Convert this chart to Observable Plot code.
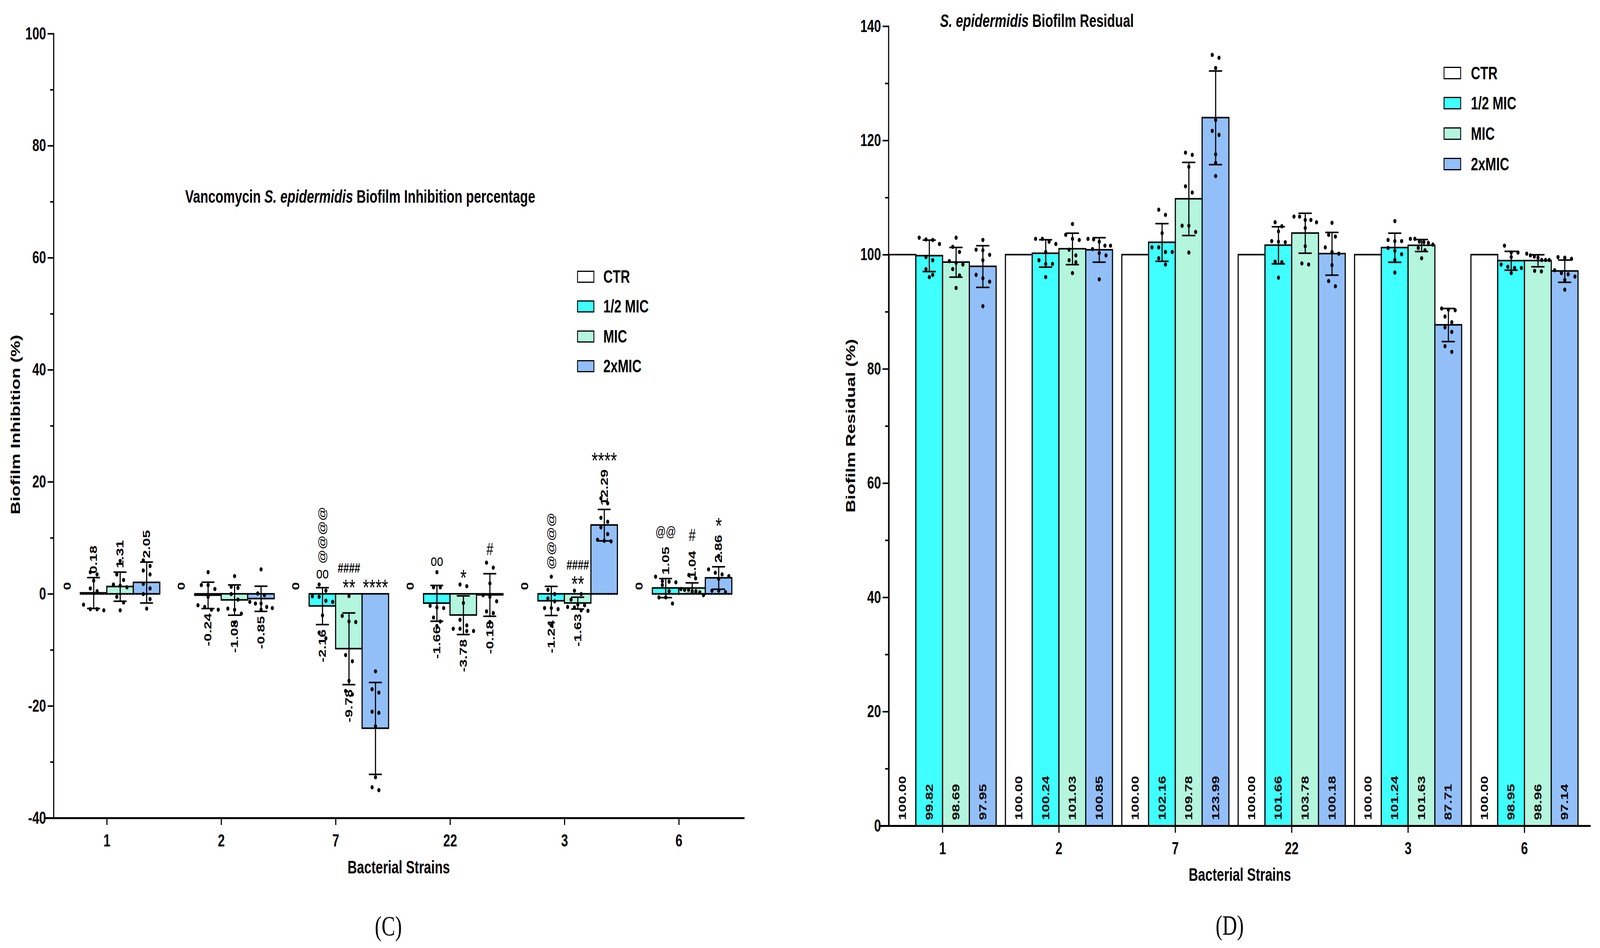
<!DOCTYPE html>
<html><head><meta charset="utf-8">
<script src="https://cdn.jsdelivr.net/npm/d3@7"></script>
<script src="https://cdn.jsdelivr.net/npm/@observablehq/plot@0.6"></script>
<style>
html,body{margin:0;padding:0;background:#fff;overflow:hidden;}
#wrap{position:absolute;left:0;top:0;width:5678px;height:2427px;overflow:hidden;transform-origin:0 0;font-family:"Liberation Sans",Arial,sans-serif;font-weight:bold;color:#000;background:#fff;}
.abs{position:absolute;white-space:nowrap;line-height:1;}
.c{transform:translate(-50%,-50%);}
.rot{transform:translate(-50%,-50%) rotate(-90deg);}
.sw{position:absolute;border:3px solid #000;box-sizing:border-box;}
.serif{font-family:"Liberation Serif","Times New Roman",serif;font-weight:normal;}
</style></head><body><div id="wrap"></div>
<script>
// ---------- shared categories ----------
const strains = ["1", "2", "7", "22", "3", "6"];
const treatments = ["CTR", "1/2 MIC", "MIC", "2xMIC"];
const fills = ["#ffffff", "#3fffff", "#b4f5de", "#93bff8"];

// ---------- panel C : biofilm inhibition (%) ----------
const inhibMean = [[0, 0.18, 1.31, 2.05], [0, -0.24, -1.08, -0.85], [0, -2.16, -9.78, -23.99],
                   [0, -1.66, -3.78, -0.18], [0, -1.24, -1.63, 12.29], [0, 1.05, 1.04, 2.86]];
const inhibSD = [[0, 2.75, 2.6, 3.65], [0, 2.35, 2.7, 2.25], [0, 3.3, 6.4, 8.2],
                 [0, 3.2, 3.45, 3.8], [0, 2.6, 1.05, 2.8], [0, 1.7, 0.95, 2.0]];
const inhibLabel = [["0", "0.18", "1.31", "2.05"], ["0", "-0.24", "-1.08", "-0.85"], ["0", "-2.16", "-9.78", ""],
                    ["0", "-1.66", "-3.78", "-0.18"], ["0", "-1.24", "-1.63", "12.29"], ["0", "1.05", "1.04", "2.86"]];
// individual replicates per strain: [1/2 MIC, MIC, 2xMIC]
const inhibPts = [
  [[3.5, 3.9, 2.4, 1.0, 0.5, -1.9, -2.7, -2.7, -2.9], [5.9, 3.5, 2.5, 1.7, 1.5, 1.2, -0.5, -1.5, -2.9], [6.0, 5.0, 4.2, 3.5, 1.8, 1.0, 0, -0.9, -2.6]],
  [[3.9, 0.9, 1.6, 1.6, -0.5, -2.0, -2.3, -2.8, -2.8], [3.2, 1.3, 1.1, 0, -1.0, -2.6, -2.8, -3.5, -5.1], [4.4, 0.1, -0.2, -1.7, -1.7, -1.4, -2.3, -2.5, -2.8]],
  [[1.7, 0.6, -0.4, -0.5, -1.2, -1.4, -3.8, -6.9, -7.9], [-0.35, -3.9, -4.9, -5.0, -10.9, -12.0, -15.5, -17.3, -17.9], [-13.8, -17.0, -17.6, -21.0, -21.2, -23.6, -32.7, -34.5, -35.0]],
  [[3.9, 1.2, 1.2, -2.1, -2.4, -2.5, -4.2, -4.9, -5.7], [1.7, 1.4, -1.6, -4.6, -5.6, -6.2, -6.2, -6.6, -6.6], [5.6, 4.7, 1.9, -0.2, -0.5, -1.3, -3.1, -3.4, -5.0]],
  [[3.1, 0.75, 0, -0.8, -1.3, -2.5, -2.5, -2.7, -5.6], [0.6, 0, -1.0, -1.85, -2.0, -2.3, -2.4, -2.9, -3.0], [17.1, 16.2, 13.6, 12.9, 11.9, 10.7, 9.7, 9.5, 9.4]],
  [[3.1, 2.3, 2.2, 2.1, 1.6, 0.5, -0.6, -0.6, -1.7], [3.4, 2.8, 0.9, 0.75, 0.75, 0.5, 0.5, 0.3, -0.2], [6.8, 4.4, 3.8, 3.5, 3.2, 2.7, 0.6, 0.6, 0.35]]
];
// significance marks: [strain, treatment, text] (bottom to top)
const sigMarks = [
  ["7", "1/2 MIC", "oo"], ["7", "1/2 MIC", "@@@@"], ["7", "MIC", "**"], ["7", "MIC", "####"], ["7", "2xMIC", "****"],
  ["22", "1/2 MIC", "oo"], ["22", "MIC", "*"], ["22", "2xMIC", "#"],
  ["3", "1/2 MIC", "@@@@"], ["3", "MIC", "**"], ["3", "MIC", "####"], ["3", "2xMIC", "****"],
  ["6", "1/2 MIC", "@@"], ["6", "MIC", "#"], ["6", "2xMIC", "*"]
];

// ---------- panel D : biofilm residual (%) ----------
const residMean = [[100, 99.82, 98.69, 97.95], [100, 100.24, 101.03, 100.85], [100, 102.16, 109.78, 123.99],
                   [100, 101.66, 103.78, 100.18], [100, 101.24, 101.63, 87.71], [100, 98.95, 98.96, 97.14]];
const residSD = [[0, 2.75, 2.6, 3.65], [0, 2.4, 2.75, 2.15], [0, 3.3, 6.4, 8.2],
                 [0, 3.25, 3.5, 3.75], [0, 2.55, 1.05, 2.9], [0, 1.65, 1.05, 1.95]];
const residLabel = [["100.00", "99.82", "98.69", "97.95"], ["100.00", "100.24", "101.03", "100.85"], ["100.00", "102.16", "109.78", "123.99"],
                    ["100.00", "101.66", "103.78", "100.18"], ["100.00", "101.24", "101.63", "87.71"], ["100.00", "98.95", "98.96", "97.14"]];
const residPts = [
  [[101.9, 103.0, 102.7, 102.6, 99.6, 99.05, 97.5, 96.5, 96.1], [98.6, 101.4, 103.0, 100.5, 98.9, 97.5, 98.3, 96.4, 94.2], [102.6, 100.9, 100.8, 100.0, 99.05, 96.5, 95.9, 95.3, 91.0]],
  [[101.9, 102.8, 102.8, 102.3, 99.05, 100.5, 98.4, 98.4, 96.1], [105.4, 102.6, 103.5, 102.8, 100.9, 99.9, 99.05, 98.7, 96.8], [101.6, 102.8, 102.7, 102.3, 100.3, 101.6, 99.9, 101.0, 95.7]],
  [[107.9, 107.0, 103.8, 101.3, 100.5, 100.5, 101.3, 99.4, 98.3], [117.9, 117.5, 115.4, 110.9, 112.0, 105.1, 105.1, 104.0, 100.4], [135.0, 134.5, 132.7, 123.6, 121.7, 121.0, 117.6, 116.1, 113.8]],
  [[105.0, 105.7, 104.1, 102.3, 102.2, 102.4, 98.8, 98.7, 96.0], [106.1, 106.7, 106.7, 106.1, 105.7, 104.7, 101.5, 98.5, 98.3], [105.6, 103.5, 103.2, 101.3, 100.5, 100.2, 98.2, 95.4, 94.5]],
  [[105.9, 102.4, 102.6, 102.4, 100.7, 100.1, 101.2, 99.1, 96.9], [102.1, 102.8, 102.8, 102.3, 101.8, 101.2, 100.8, 99.4, 102.2], [90.6, 90.4, 90.3, 89.2, 88.2, 87.3, 86.5, 84.0, 83.0]],
  [[101.6, 99.6, 100.4, 100.4, 98.3, 97.9, 97.7, 97.7, 96.8], [99.1, 99.1, 99.1, 99.5, 100.2, 99.9, 99.7, 97.2, 97.1], [99.6, 99.5, 99.3, 97.3, 96.8, 96.6, 96.2, 95.6, 93.9]]
];

// ---------- helpers ----------
const FONT = '"Liberation Sans", Arial, sans-serif';
const cv = document.createElement("canvas").getContext("2d");
function measure(txt, font) { cv.font = font; return cv.measureText(txt).width; }
const hyphen = d => String(d);

function buildBars(mean, sd, label) {
  const out = [];
  strains.forEach((s, i) => treatments.forEach((t, j) =>
    out.push({strain: s, treatment: t, mean: mean[i][j], sd: sd[i][j], label: label[i][j],
              lo: mean[i][j] - sd[i][j], hi: mean[i][j] + sd[i][j]})));
  return out;
}
// horizontal spreading of overlapping replicates (scatter-dot style)
function spread(vals, pxPerUnit) {
  const sorted = vals.slice().sort((a, b) => b - a);
  const out = []; let cl = [];
  const flush = () => {
    const n = cl.length, step = n > 1 ? Math.min(24, 80 / (n - 1)) : 0;
    cl.forEach((v, k) => out.push({v, off: Math.round((k - (n - 1) / 2) * step)}));
    cl = [];
  };
  for (const v of sorted) { if (cl.length && (cl[0] - v) * pxPerUnit > 18) flush(); cl.push(v); }
  flush();
  return out;
}
function dotMarks(ptsArr, pxPerUnit) {
  const recs = [];
  strains.forEach((s, i) => ptsArr[i].forEach((vals, k) => {
    spread(vals, pxPerUnit).forEach(p => recs.push({strain: s, treatment: treatments[k + 1], value: p.v, off: p.off}));
  }));
  return d3.groups(recs, d => d.off).map(([off, g]) =>
    Plot.dot(g, {fx: "strain", x: "treatment", y: "value", dx: off, r: 5.5, fill: "black"}));
}
function errorMarks(bars) {
  const e = bars.filter(d => d.sd > 0);
  return [
    Plot.ruleX(e, {fx: "strain", x: "treatment", y1: "lo", y2: "hi", stroke: "black", strokeWidth: 4}),
    Plot.tickY(e, {fx: "strain", x: "treatment", y: "lo", insetLeft: 24, insetRight: 24, stroke: "black", strokeWidth: 4}),
    Plot.tickY(e, {fx: "strain", x: "treatment", y: "hi", insetLeft: 24, insetRight: 24, stroke: "black", strokeWidth: 4})
  ];
}
function sigStyle(txt) {
  if (/^@+$/.test(txt) && txt.length > 2) return {rotate: true, size: 36, weight: "normal"};
  if (/^\*+$/.test(txt)) return {size: 58, weight: "normal", h: 21, shift: 13};
  if (txt === "####") return {size: 36, weight: "bold", h: 26, shift: 0};
  if (/^#+$/.test(txt)) return {size: 44, weight: "normal", h: 31, shift: 0};
  if (/^@+$/.test(txt)) return {size: 36, weight: "normal", h: 28, shift: 0};
  return {size: 40, weight: "normal", h: 21, shift: 0};
}
function buildSig() {
  const marks = [];
  const byBar = d3.groups(sigMarks, d => d[0] + "|" + d[1]);
  for (const [key, items] of byBar) {
    const [s, t] = key.split("|");
    const i = strains.indexOf(s), j = treatments.indexOf(t);
    const m = inhibMean[i][j], sd = inhibSD[i][j];
    let base, off;
    if (m >= 0) { base = m + sd; off = 10 + measure(inhibLabel[i][j], `bold 37px ${FONT}`) + 24; }
    else { base = Math.max(0, m + sd, d3.max(inhibPts[i][j - 1])); off = 18; }
    for (const it of items) {
      const txt = it[2], st = sigStyle(txt);
      const rec = [{strain: s, treatment: t, y: base, text: txt}];
      if (st.rotate) {
        marks.push(Plot.text(rec, {fx: "strain", x: "treatment", y: "y", text: "text", rotate: -90, textAnchor: "start",
          dy: -off, fontSize: st.size, fontWeight: st.weight}));
        off += measure(txt, `${st.weight} ${st.size}px ${FONT}`) + 14;
      } else {
        marks.push(Plot.text(rec, {fx: "strain", x: "treatment", y: "y", text: "text", lineAnchor: "middle",
          dy: -(off + st.h / 2) + st.shift, fontSize: st.size, fontWeight: st.weight}));
        off += st.h + 14;
      }
    }
  }
  return marks;
}
const baseStyle = {fontFamily: FONT, fontSize: "44px", fontWeight: "bold", overflow: "visible", background: "none", color: "black", maxWidth: "none"};

// ---------- panel C plot ----------
const L = {w: 2850, h: 2427, ml: 190, mr: 210, mt: 86, mb: 333};
const leftBars = buildBars(inhibMean, inhibSD, inhibLabel);
const pxL = (L.h - L.mt - L.mb) / 140;
const leftPlot = Plot.plot({
  width: L.w, height: L.h, marginLeft: L.ml, marginRight: L.mr, marginTop: L.mt, marginBottom: L.mb,
  style: baseStyle,
  fx: {domain: strains, paddingInner: 0.069, paddingOuter: 0.0517, align: 0},
  x: {domain: treatments, padding: 0, axis: null},
  y: {domain: [-40, 100]},
  color: {domain: treatments, range: fills},
  marks: [
    Plot.frame({anchor: "left", facetAnchor: "left", stroke: "black", strokeWidth: 4}),
    Plot.ruleY([-40], {insetLeft: -30, insetRight: -44, stroke: "black", strokeWidth: 5}),
    Plot.axisY({ticks: d3.range(-40, 101, 20), tickFormat: hyphen, tickSize: 21, tickPadding: 6, fontSize: 44, fontWeight: "bold", strokeWidth: 4, label: null}),
    Plot.axisY({ticks: d3.range(-30, 100, 20), tickSize: 12, tickFormat: () => "", strokeWidth: 4, label: null}),
    Plot.axisFx({anchor: "bottom", tickSize: 18, tickPadding: 23, fontSize: 44, fontWeight: "bold", strokeWidth: 4, label: null}),
    Plot.tickY(leftBars.filter(d => d.treatment !== "CTR"), {fx: "strain", x: "treatment", y: () => 0, stroke: "black", strokeWidth: 4, strokeDasharray: "4,6"}),
    Plot.barY(leftBars.filter(d => d.treatment !== "CTR"), {fx: "strain", x: "treatment", y: "mean", fill: "treatment", stroke: "black", strokeWidth: 4}),
    ...errorMarks(leftBars),
    ...dotMarks(inhibPts, pxL),
    Plot.text(leftBars.filter(d => d.mean >= 0 && d.label), {fx: "strain", x: "treatment", y: "hi", text: "label", rotate: -90, textAnchor: "start", dy: -10, fontSize: 37, fontWeight: "bold"}),
    Plot.text(leftBars.filter(d => d.mean < 0 && d.label), {fx: "strain", x: "treatment", y: "lo", text: "label", rotate: -90, textAnchor: "end", dy: 12, fontSize: 37, fontWeight: "bold"}),
    ...buildSig()
  ]
});

// ---------- panel D plot ----------
const R = {x0: 2850, w: 2828, h: 2427, ml: 303, mr: 30, mt: 67, mb: 313};
const rightBars = buildBars(residMean, residSD, residLabel);
const pxR = (R.h - R.mt - R.mb) / 140;
const rightPlot = Plot.plot({
  width: R.w, height: R.h, marginLeft: R.ml, marginRight: R.mr, marginTop: R.mt, marginBottom: R.mb,
  style: baseStyle,
  fx: {domain: strains, paddingInner: 0.0725, paddingOuter: 0.0496, align: 0},
  x: {domain: treatments, padding: 0, axis: null},
  y: {domain: [0, 140]},
  color: {domain: treatments, range: fills},
  marks: [
    Plot.frame({anchor: "left", facetAnchor: "left", stroke: "black", strokeWidth: 4}),
    Plot.axisY({ticks: d3.range(0, 141, 20), tickFormat: hyphen, tickSize: 21, tickPadding: 6, fontSize: 44, fontWeight: "bold", strokeWidth: 4, label: null}),
    Plot.axisY({ticks: d3.range(10, 140, 20), tickSize: 12, tickFormat: () => "", strokeWidth: 4, label: null}),
    Plot.axisFx({anchor: "bottom", tickSize: 18, tickPadding: 23, fontSize: 44, fontWeight: "bold", strokeWidth: 4, label: null}),
    Plot.barY(rightBars, {fx: "strain", x: "treatment", y: "mean", fill: "treatment", stroke: "black", strokeWidth: 4}),
    Plot.ruleY([0], {insetLeft: -30, insetRight: -44, stroke: "black", strokeWidth: 5}),
    ...errorMarks(rightBars),
    ...dotMarks(residPts, pxR),
    Plot.text(rightBars, {fx: "strain", x: "treatment", y: () => 0, text: "label", rotate: -90, textAnchor: "start", dy: -15, fontSize: 37, fontWeight: "bold"})
  ]
});

// ---------- assemble ----------
const wrap = document.getElementById("wrap");
leftPlot.style.position = "absolute"; leftPlot.style.left = "0px"; leftPlot.style.top = "0px";
rightPlot.style.position = "absolute"; rightPlot.style.left = R.x0 + "px"; rightPlot.style.top = "0px";
wrap.appendChild(leftPlot); wrap.appendChild(rightPlot);

function addText(html, x, y, cls, size) {
  const d = document.createElement("div");
  d.className = "abs " + cls; d.innerHTML = html;
  d.style.left = x + "px"; d.style.top = y + "px"; d.style.fontSize = size + "px";
  wrap.appendChild(d); return d;
}
const ltitle = addText('Vancomycin <i>S. epidermidis</i> Biofilm Inhibition percentage', 657, 503, "", 46);
ltitle.style.transform = "translateY(-50%)";
addText("Biofilm Inhibition (%)", 55, 1087, "rot", 46);
addText("Bacterial Strains", 1415, 2220, "c", 46);
addText("(C)", 1378, 2371, "c serif", 72);
const rtitle = addText('<i>S. epidermidis</i> Biofilm Residual', 3336, 53, "", 46);
rtitle.style.transform = "translateY(-50%)";
addText("Biofilm Residual (%)", 3019, 1090, "rot", 46);
addText("Bacterial Strains", 4400, 2239, "c", 46);
addText("(D)", 4364, 2369, "c serif", 72);

function legend(x, rows, sw, sh, tx) {
  treatments.forEach((t, k) => {
    const s = document.createElement("div");
    s.className = "sw"; s.style.left = x + "px"; s.style.top = (rows[k] - sh / 2) + "px";
    s.style.width = sw + "px"; s.style.height = sh + "px"; s.style.background = fills[k];
    wrap.appendChild(s);
    const d = addText(t, tx, rows[k], "", 46); d.style.transform = "translateY(-50%)";
  });
}
legend(2048, [708, 784, 861, 937], 61, 31, 2141);
legend(5123, [187, 264, 342, 420], 62, 32, 5220);

// fit the 5678 x 2427 layout to the actual viewport (the window may be clamped)
function fit() {
  const vw = document.documentElement.clientWidth || window.innerWidth || 5678;
  const vh = document.documentElement.clientHeight || window.innerHeight || 2427;
  const sx = vw / 5678, sy = vh / 2427;
  wrap.style.transform = (sx === 1 && sy === 1) ? "none" : `scale(${sx}, ${sy})`;
  document.body.style.width = vw + "px";
  document.body.style.height = vh + "px";
}
fit();
window.addEventListener("resize", fit);
</script></body></html>
